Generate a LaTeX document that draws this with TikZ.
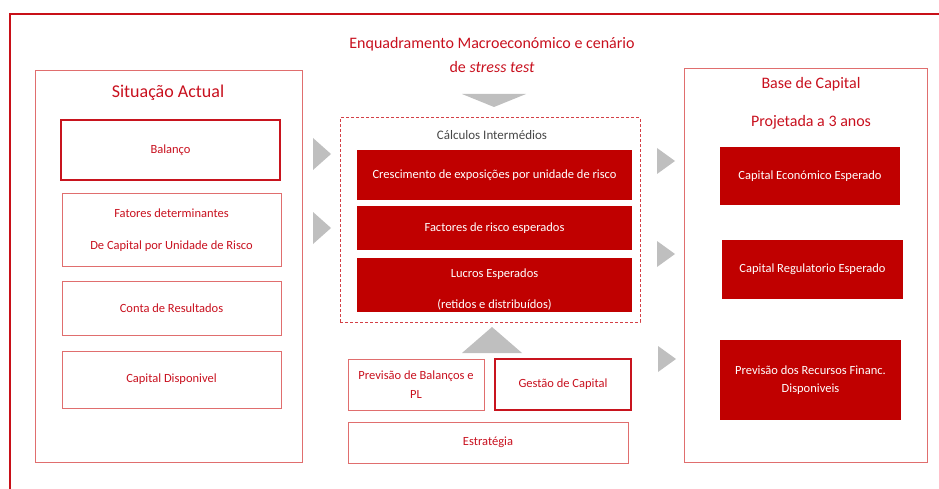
\documentclass[tikz,border=0pt]{standalone}
\usepackage{fontspec}
\setmainfont{Carlito}
\definecolor{frame}{RGB}{200,16,24}
\definecolor{txtred}{RGB}{200,16,30}
\definecolor{lightred}{RGB}{224,110,110}
\definecolor{darkred}{RGB}{200,20,30}
\definecolor{fillred}{RGB}{192,0,0}
\definecolor{tri}{RGB}{191,191,191}
\definecolor{greytxt}{RGB}{70,70,70}
\tikzset{
  panel/.style={draw=lightred, line width=0.9pt, anchor=north west, inner sep=0pt, outer sep=0pt},
  wbox/.style={draw=lightred, line width=1pt, anchor=north west, inner sep=0pt, outer sep=0pt, text=txtred, font=\fontsize{12.5}{14.5}\selectfont, align=center},
  tbox/.style={wbox, draw=darkred, line width=1.8pt},
  rbox/.style={fill=fillred, anchor=north west, inner sep=0pt, outer sep=0pt, text=white, font=\fontsize{12.5}{14.5}\selectfont, align=center},
  title/.style={text=txtred, font=\fontsize{16}{19}\selectfont, inner sep=0pt, anchor=base},
  arr/.style={fill=tri, draw=none},
}
\begin{document}
\begin{tikzpicture}[x=1pt,y=-1pt]
\useasboundingbox (0,0) rectangle (939,489);
% outer frame
\coordinate (ftl) at (10,14);
\draw[frame, line width=2pt] (10,489) -- (ftl) -- (939,14);
% main title
\node[title] (t1) at (492,49) {Enquadramento Macroeconómico e cenário};
\node[title] (t2) at (492,73) {de \textit{stress test}};
\fill[arr] (462,94) -- (526,94) -- (494,107) -- cycle;
% left panel
\node[panel, minimum width=267pt, minimum height=392pt] (lp) at (35,70) {};
\node[title, font=\fontsize{18}{21}\selectfont] (lpt) at (168,98) {Situação Actual};
\node[tbox, minimum width=219pt, minimum height=60pt] (bal) at (61,120) {Balanço};
\node[wbox, minimum width=219pt, minimum height=72pt] (fat) at (62,194) {Fatores determinantes\\[18pt]De Capital por Unidade de Risco};
\node[wbox, minimum width=219pt, minimum height=54pt] (con) at (62,281) {Conta de Resultados};
\node[wbox, minimum width=219pt, minimum height=57pt] (cap) at (62,351) {Capital Disponivel};
% left arrows
\fill[arr] (313,138) -- (331,154) -- (313,170) -- cycle;
\fill[arr] (313,212) -- (331,228) -- (313,244) -- cycle;
% center dashed box
\node[panel, draw=frame!80!white, dashed, line width=1pt, dash pattern=on 3pt off 2pt, minimum width=300pt, minimum height=204pt] (calc) at (340,118) {};
\node[text=greytxt, font=\fontsize{13}{15}\selectfont, inner sep=0pt, anchor=base] (calct) at (492,140) {Cálculos Intermédios};
\node[rbox, minimum width=275pt, minimum height=50pt] (cre) at (357,150) {Crescimento de exposições por unidade de risco};
\node[rbox, minimum width=275pt, minimum height=44pt] (fac) at (357,206) {Factores de risco esperados};
\node[rbox, minimum width=275pt, minimum height=54pt] (luc) at (357,258) {\rule{0pt}{18pt}Lucros Esperados\\[17pt](retidos e distribuídos)};
\fill[arr] (462,353) -- (492,327) -- (522,353) -- cycle;
\node[wbox, minimum width=136pt, minimum height=51pt] (prev) at (348,359) {Previsão de Balanços e\\[4pt]PL};
\node[tbox, minimum width=136pt, minimum height=51pt] (gest) at (495,359) {Gestão de Capital};
\node[wbox, minimum width=280pt, minimum height=41pt] (estr) at (348,422) {Estratégia};
% right arrows
\fill[arr] (657,148) -- (675,161) -- (657,174) -- cycle;
\fill[arr] (657,241) -- (675,254) -- (657,267) -- cycle;
\fill[arr] (658,346) -- (676,359) -- (658,372) -- cycle;
% right panel
\node[panel, minimum width=243pt, minimum height=394pt] (rp) at (684,68) {};
\node[title] (rpt1) at (811,89) {Base de Capital};
\node[title] (rpt2) at (811,127) {Projetada a 3 anos};
\node[rbox, minimum width=180pt, minimum height=58pt] (ce) at (720,147) {Capital Económico Esperado};
\node[rbox, minimum width=181pt, minimum height=59pt] (cr) at (722,240) {Capital Regulatorio Esperado};
\node[rbox, minimum width=181pt, minimum height=80pt] (pr) at (720,340) {Previsão dos Recursos Financ.\\[3pt]Disponiveis};
\end{tikzpicture}
\end{document}
